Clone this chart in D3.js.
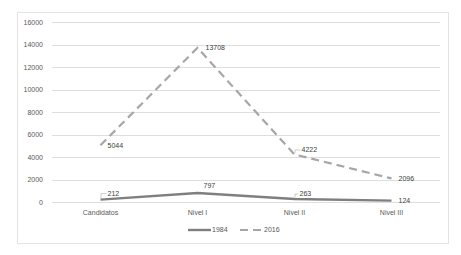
<!DOCTYPE html>
<html>
<head>
<meta charset="utf-8">
<script src="https://cdn.jsdelivr.net/npm/d3@7"></script>
<style>
  body { margin: 0; background: #fff; }
  text { font-family: "Liberation Sans", Arial, sans-serif; fill: #595959; }
</style>
</head>
<body>
<div id="chart"></div>
<script>
const categories = ["Candidatos", "Nivel I", "Nivel II", "Nivel III"];
const values1984 = [212, 797, 263, 124];
const values2016 = [5044, 13708, 4222, 2096];
const yTicks = [0, 2000, 4000, 6000, 8000, 10000, 12000, 14000, 16000];

const w = 461;
const h = 255;
const margin = { top: 22, right: 21, bottom: 53, left: 52 };

const svg = d3.select("#chart")
  .append("svg")
  .attr("width", w)
  .attr("height", h);

// chart frame
svg.append("rect")
  .attr("x", 17.5)
  .attr("y", 12.5)
  .attr("width", 431)
  .attr("height", 231)
  .attr("fill", "white")
  .attr("stroke", "#e3e3e3");

const xScale = d3.scaleBand()
  .domain(categories)
  .range([margin.left, w - margin.right]);

const yScale = d3.scaleLinear()
  .domain([0, 16000])
  .range([h - margin.bottom, margin.top]);

// gridlines
svg.append("g")
  .selectAll("line")
  .data(yTicks)
  .enter()
  .append("line")
  .attr("x1", margin.left)
  .attr("x2", w - margin.right)
  .attr("y1", d => Math.round(yScale(d)) + 0.5)
  .attr("y2", d => Math.round(yScale(d)) + 0.5)
  .attr("stroke", "#dedede");

// y axis
const yAxis = d3.axisLeft(yScale)
  .tickValues(yTicks)
  .tickFormat(d3.format("d"))
  .tickSize(0)
  .tickPadding(9);
svg.append("g")
  .attr("transform", "translate(" + margin.left + ", 0)")
  .call(yAxis)
  .call(g => g.select(".domain").remove())
  .selectAll("text")
  .style("font-size", "7px")
  .style("fill", "#595959");

// x axis
const xAxis = d3.axisBottom(xScale).tickSize(0).tickPadding(8);
svg.append("g")
  .attr("transform", "translate(0, " + (h - margin.bottom) + ")")
  .call(xAxis)
  .call(g => g.select(".domain").remove())
  .selectAll("text")
  .style("font-size", "7px")
  .style("fill", "#595959");

const cx = d => xScale(d) + xScale.bandwidth() / 2;

const line = d3.line()
  .x(d => cx(d.cat))
  .y(d => yScale(d.v));

const data1984 = categories.map((c, i) => ({ cat: c, v: values1984[i] }));
const data2016 = categories.map((c, i) => ({ cat: c, v: values2016[i] }));

svg.append("path")
  .datum(data2016)
  .attr("d", line)
  .attr("fill", "none")
  .attr("stroke", "#a6a6a6")
  .attr("stroke-width", 2.2)
  .attr("stroke-dasharray", "8,5");

svg.append("path")
  .datum(data1984)
  .attr("d", line)
  .attr("fill", "none")
  .attr("stroke", "#7f7f7f")
  .attr("stroke-width", 2.4);

// data labels: [dx, dy, leader]
const labels2016 = [[7, 0, false], [8, 0, false], [7, -4.5, true], [7, 0, false]];
const labels1984 = [[7, -6, true], [6, -7, false], [5, -5, true], [7, 0, false]];

function drawLabels(data, offs) {
  const g = svg.append("g");
  data.forEach((d, i) => {
    const x = cx(d.cat);
    const y = yScale(d.v);
    const [dx, dy, leader] = offs[i];
    if (leader) {
      g.append("path")
        .attr("d", "M" + (x + 0.5) + "," + (y - 1.5) + "V" + (y + dy) + "H" + (x + dx - 1))
        .attr("fill", "none")
        .attr("stroke", "#bfbfbf")
        .attr("stroke-width", 0.8);
    }
    g.append("text")
      .attr("x", x + dx)
      .attr("y", y + dy)
      .attr("dy", "0.35em")
      .style("font-size", "7px")
      .style("fill", "#404040")
      .text(d.v);
  });
}
drawLabels(data2016, labels2016);
drawLabels(data1984, labels1984);

// legend
const legend = svg.append("g");
legend.append("line")
  .attr("x1", 188).attr("x2", 211)
  .attr("y1", 230).attr("y2", 230)
  .attr("stroke", "#7f7f7f").attr("stroke-width", 2.4);
legend.append("text")
  .attr("x", 212).attr("y", 230).attr("dy", "0.35em")
  .style("font-size", "7px").text("1984");
legend.append("line")
  .attr("x1", 240).attr("x2", 262)
  .attr("y1", 230).attr("y2", 230)
  .attr("stroke", "#a6a6a6").attr("stroke-width", 2.2)
  .attr("stroke-dasharray", "8,5");
legend.append("text")
  .attr("x", 264).attr("y", 230).attr("dy", "0.35em")
  .style("font-size", "7px").text("2016");
</script>
</body>
</html>
